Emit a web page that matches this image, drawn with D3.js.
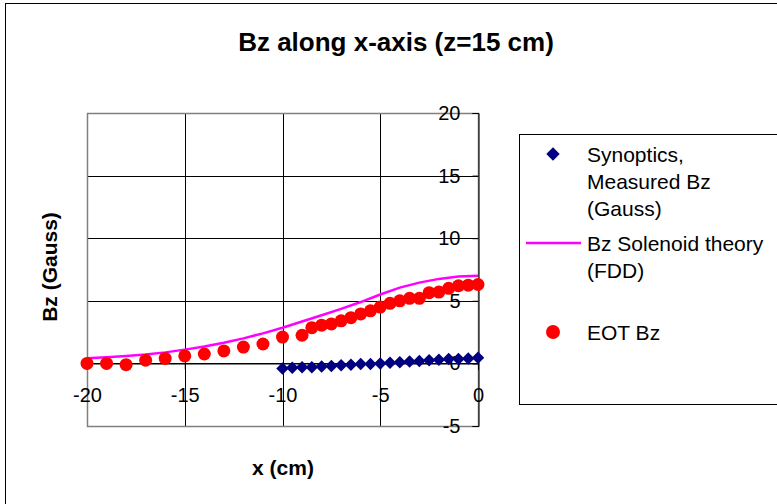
<!DOCTYPE html>
<html>
<head>
<meta charset="utf-8">
<script src="https://cdn.jsdelivr.net/npm/d3@7"></script>
<style>
	body { margin: 0; background: #fff; }
	text { font-family: "Liberation Sans", Arial, sans-serif; fill: #000; }
</style>
</head>
<body>
<div id="chart"></div>
<script>
// Synoptics measured Bz (Gauss)
var synX = [-10, -9.5, -9, -8.5, -8, -7.5, -7, -6.5, -6, -5.5, -5, -4.5, -4, -3.5, -3, -2.5, -2, -1.5, -1, -0.5, 0];
var synBz = [-0.4, -0.35, -0.3, -0.3, -0.25, -0.2, -0.15, -0.1, -0.05, -0.05, 0, 0.05, 0.1, 0.15, 0.2, 0.25, 0.3, 0.35, 0.35, 0.4, 0.45];
// Bz Solenoid theory (FDD)
var fddX = [-20, -19, -18, -17, -16, -15, -14, -13, -12, -11, -10, -9, -8, -7, -6, -5, -4, -3, -2, -1, 0];
var fddBz = [0.42, 0.5, 0.6, 0.72, 0.88, 1.1, 1.35, 1.65, 2.0, 2.4, 2.85, 3.35, 3.85, 4.35, 4.9, 5.5, 6.05, 6.45, 6.75, 6.95, 7.0];
// EOT Bz
var eotX = [-20, -19, -18, -17, -16, -15, -14, -13, -12, -11, -10, -9, -8.5, -8, -7.5, -7, -6.5, -6, -5.5, -5, -4.5, -4, -3.5, -3, -2.5, -2, -1.5, -1, -0.5, 0];
var eotBz = [0.0, 0.0, -0.1, 0.25, 0.4, 0.6, 0.75, 1.0, 1.3, 1.55, 2.1, 2.25, 2.85, 3.05, 3.15, 3.4, 3.65, 3.95, 4.2, 4.5, 4.8, 5.0, 5.2, 5.2, 5.65, 5.7, 6.0, 6.2, 6.25, 6.3];

var xTicks = [-20, -15, -10, -5, 0];
var yTicks = [-5, 0, 5, 10, 15, 20];
var legendItems = [
	{ kind: 'diamond', lines: ['Synoptics,', 'Measured Bz', '(Gauss)'] },
	{ kind: 'line', lines: ['Bz Solenoid theory', '(FDD)'] },
	{ kind: 'circle', lines: ['EOT Bz'] }
];

var W = 777, H = 504;
var svg = d3.select('#chart').append('svg')
	.attr('width', W)
	.attr('height', H);

// outer chart frame (runs off the right / bottom edge)
svg.append('rect')
	.attr('x', 5.5).attr('y', 3.5)
	.attr('width', W + 10).attr('height', H + 10)
	.attr('fill', '#fff')
	.attr('stroke', '#000');

var plot = { left: 87, right: 478, top: 113, bottom: 426 };
var xScale = d3.scaleLinear().domain([-20, 0]).range([plot.left, plot.right]);
var yScale = d3.scaleLinear().domain([-5, 20]).range([plot.bottom, plot.top]);
var plainNum = function (d) { return String(d); }; // keep ascii hyphen like the original

// grid
var grid = svg.append('g');
grid.selectAll('line.h').data(yTicks).enter()
	.append('line')
	.attr('x1', plot.left).attr('x2', plot.right)
	.attr('y1', function (d) { return Math.round(yScale(d)) + 0.5; })
	.attr('y2', function (d) { return Math.round(yScale(d)) + 0.5; })
	.attr('stroke', '#000');
grid.selectAll('line.v').data(xTicks).enter()
	.append('line')
	.attr('y1', plot.top).attr('y2', plot.bottom)
	.attr('x1', function (d) { return Math.round(xScale(d)) + 0.5; })
	.attr('x2', function (d) { return Math.round(xScale(d)) + 0.5; })
	.attr('stroke', '#000');

// plot area border
svg.append('rect')
	.attr('x', plot.left + 0.5).attr('y', plot.top + 0.5)
	.attr('width', plot.right - plot.left).attr('height', plot.bottom - plot.top)
	.attr('fill', 'none')
	.attr('stroke', '#808080')
	.attr('stroke-width', 1.5);

// y axis sits at x = 0
var yAxis = svg.append('g')
	.attr('transform', 'translate(' + (Math.round(xScale(0)) + 0.5) + ',0)')
	.call(d3.axisLeft(yScale).tickValues(yTicks).tickSize(6).tickPadding(12).tickFormat(plainNum));
yAxis.select('.domain').attr('stroke', '#000');
yAxis.selectAll('text').style('font-size', '20px').attr('font-family', null);

// x axis sits at y = 0
var xAxis = svg.append('g')
	.attr('transform', 'translate(0,' + (Math.round(yScale(0)) + 0.5) + ')')
	.call(d3.axisBottom(xScale).tickValues(xTicks).tickSize(6).tickPadding(18).tickFormat(plainNum));
xAxis.select('.domain').attr('stroke', '#000');
xAxis.selectAll('text').style('font-size', '20px').attr('font-family', null);

// theory curve
var line = d3.line()
	.x(function (d, i) { return xScale(fddX[i]); })
	.y(function (d, i) { return yScale(fddBz[i]); });
svg.append('path')
	.datum(fddBz)
	.attr('d', line)
	.attr('fill', 'none')
	.attr('stroke', '#ff00ff')
	.attr('stroke-width', 2.5);

var diamond = d3.symbol().type(d3.symbolSquare).size(78);

svg.append('g').selectAll('path').data(synBz).enter()
	.append('path')
	.attr('d', diamond)
	.attr('transform', function (d, i) {
		return 'translate(' + xScale(synX[i]) + ',' + yScale(d) + ') rotate(45)';
	})
	.attr('fill', '#000080');

svg.append('g').selectAll('circle').data(eotBz).enter()
	.append('circle')
	.attr('cx', function (d, i) { return xScale(eotX[i]); })
	.attr('cy', function (d) { return yScale(d); })
	.attr('r', 6.5)
	.attr('fill', '#ff0000');

// titles
svg.append('text')
	.attr('x', 396).attr('y', 51)
	.attr('text-anchor', 'middle')
	.style('font-size', '26px').style('font-weight', 'bold')
	.text('Bz along x-axis (z=15 cm)');
svg.append('text')
	.attr('x', 283).attr('y', 475)
	.attr('text-anchor', 'middle')
	.style('font-size', '21px').style('font-weight', 'bold')
	.text('x (cm)');
svg.append('text')
	.attr('transform', 'translate(57,267) rotate(-90)')
	.attr('text-anchor', 'middle')
	.style('font-size', '21px').style('font-weight', 'bold')
	.text('Bz (Gauss)');

// legend
var legend = svg.append('g');
legend.append('rect')
	.attr('x', 519.5).attr('y', 134.5)
	.attr('width', 300).attr('height', 270)
	.attr('fill', '#fff')
	.attr('stroke', '#000');

var rowY = [154, 243, 332];
legendItems.forEach(function (item, i) {
	var cy = rowY[i];
	if (item.kind === 'diamond') {
		legend.append('path')
			.attr('d', d3.symbol().type(d3.symbolSquare).size(90))
			.attr('transform', 'translate(553,' + cy + ') rotate(45)')
			.attr('fill', '#000080');
	} else if (item.kind === 'line') {
		legend.append('line')
			.attr('x1', 526).attr('x2', 581)
			.attr('y1', cy).attr('y2', cy)
			.attr('stroke', '#ff00ff')
			.attr('stroke-width', 2.5);
	} else {
		legend.append('circle')
			.attr('cx', 553).attr('cy', cy)
			.attr('r', 7)
			.attr('fill', '#ff0000');
	}
	item.lines.forEach(function (t, j) {
		legend.append('text')
			.attr('x', 587)
			.attr('y', cy + j * 27 + 7.5)
			.style('font-size', '21px')
			.text(t);
	});
});
</script>
</body>
</html>
